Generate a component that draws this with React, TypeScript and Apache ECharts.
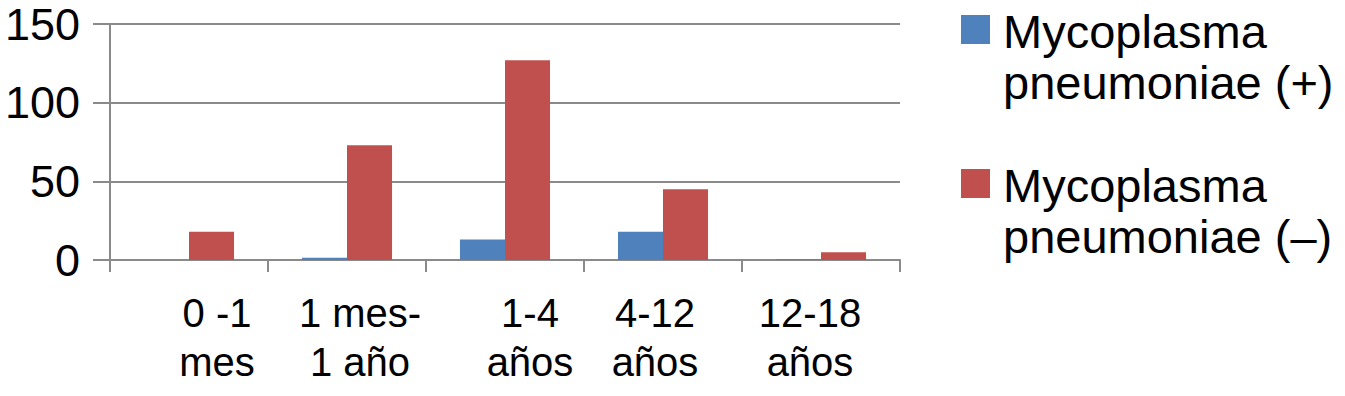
import React, { useEffect, useRef } from "react";
import * as echarts from "echarts";

const categories = ["0 -1\nmes", "1 mes-\n1 año", "1-4\naños", "4-12\naños", "12-18\naños"];
const labelShift = [28, 13, 25, -8, -11];
const positiveValues = [0, 1.5, 13, 18, 0.5];
const negativeValues = [18, 73, 127, 45, 5];
const seriesNames = ["Mycoplasma\npneumoniae (+)", "Mycoplasma\npneumoniae (–)"];
const yTicks = { min: 0, max: 150, interval: 50 };

const FONT = "'Liberation Sans', Arial, Helvetica, sans-serif";
const AXIS = "#8a8a8a";
// square legend marker drawn in the upper part of a two-line-tall legend item
const LEGEND_ICON = "path://M0,9H29V38H0Z M0,0L0.01,0Z M0,102L0.01,102Z";

export default function App() {
  const ref = useRef<HTMLDivElement>(null);
  useEffect(() => {
    if (!ref.current) return;
    const chart = echarts.init(ref.current, undefined, { renderer: "svg" });
    chart.setOption({
      animation: false,
      grid: { left: 110, right: 445, top: 24, bottom: 136 },
      legend: {
        orient: "vertical",
        left: 956,
        top: 1,
        itemWidth: 29,
        itemHeight: 102,
        itemGap: 52,
        icon: LEGEND_ICON,
        textStyle: {
          fontFamily: FONT,
          fontSize: 47,
          lineHeight: 51,
          color: "#000",
          padding: [0, 0, 0, 8],
        },
        data: seriesNames,
      },
      xAxis: {
        type: "category",
        data: categories.map((c, i) => ({
          value: c,
          textStyle: {
            padding: labelShift[i] >= 0 ? [0, 0, 0, labelShift[i] * 2] : [0, -labelShift[i] * 2, 0, 0],
          },
        })),
        axisLine: { lineStyle: { color: AXIS, width: 2 } },
        axisTick: { show: true, length: 12, lineStyle: { color: AXIS, width: 2 } },
        axisLabel: {
          fontFamily: FONT,
          fontSize: 40,
          lineHeight: 49,
          color: "#000",
          margin: 28,
          interval: 0,
        },
      },
      yAxis: {
        type: "value",
        min: yTicks.min,
        max: yTicks.max,
        interval: yTicks.interval,
        axisLine: { show: true, lineStyle: { color: AXIS, width: 2 } },
        axisTick: { show: true, length: 17, lineStyle: { color: AXIS, width: 2 } },
        splitLine: { lineStyle: { color: AXIS, width: 2 } },
        axisLabel: {
          fontFamily: FONT,
          fontSize: 45,
          lineHeight: 46,
          color: "#000",
          margin: 30,
        },
      },
      series: [
        {
          name: seriesNames[0],
          type: "bar",
          data: positiveValues,
          itemStyle: { color: "#4F81BD" },
          barGap: "0%",
          barCategoryGap: "43%",
        },
        {
          name: seriesNames[1],
          type: "bar",
          data: negativeValues,
          itemStyle: { color: "#C0504D" },
          barGap: "0%",
          barCategoryGap: "43%",
        },
      ],
    });
    return () => chart.dispose();
  }, []);
  return (
    <div
      ref={ref}
      style={{ position: "fixed", left: 0, top: 0, width: 1345, height: 396, background: "#fff" }}
    />
  );
}
